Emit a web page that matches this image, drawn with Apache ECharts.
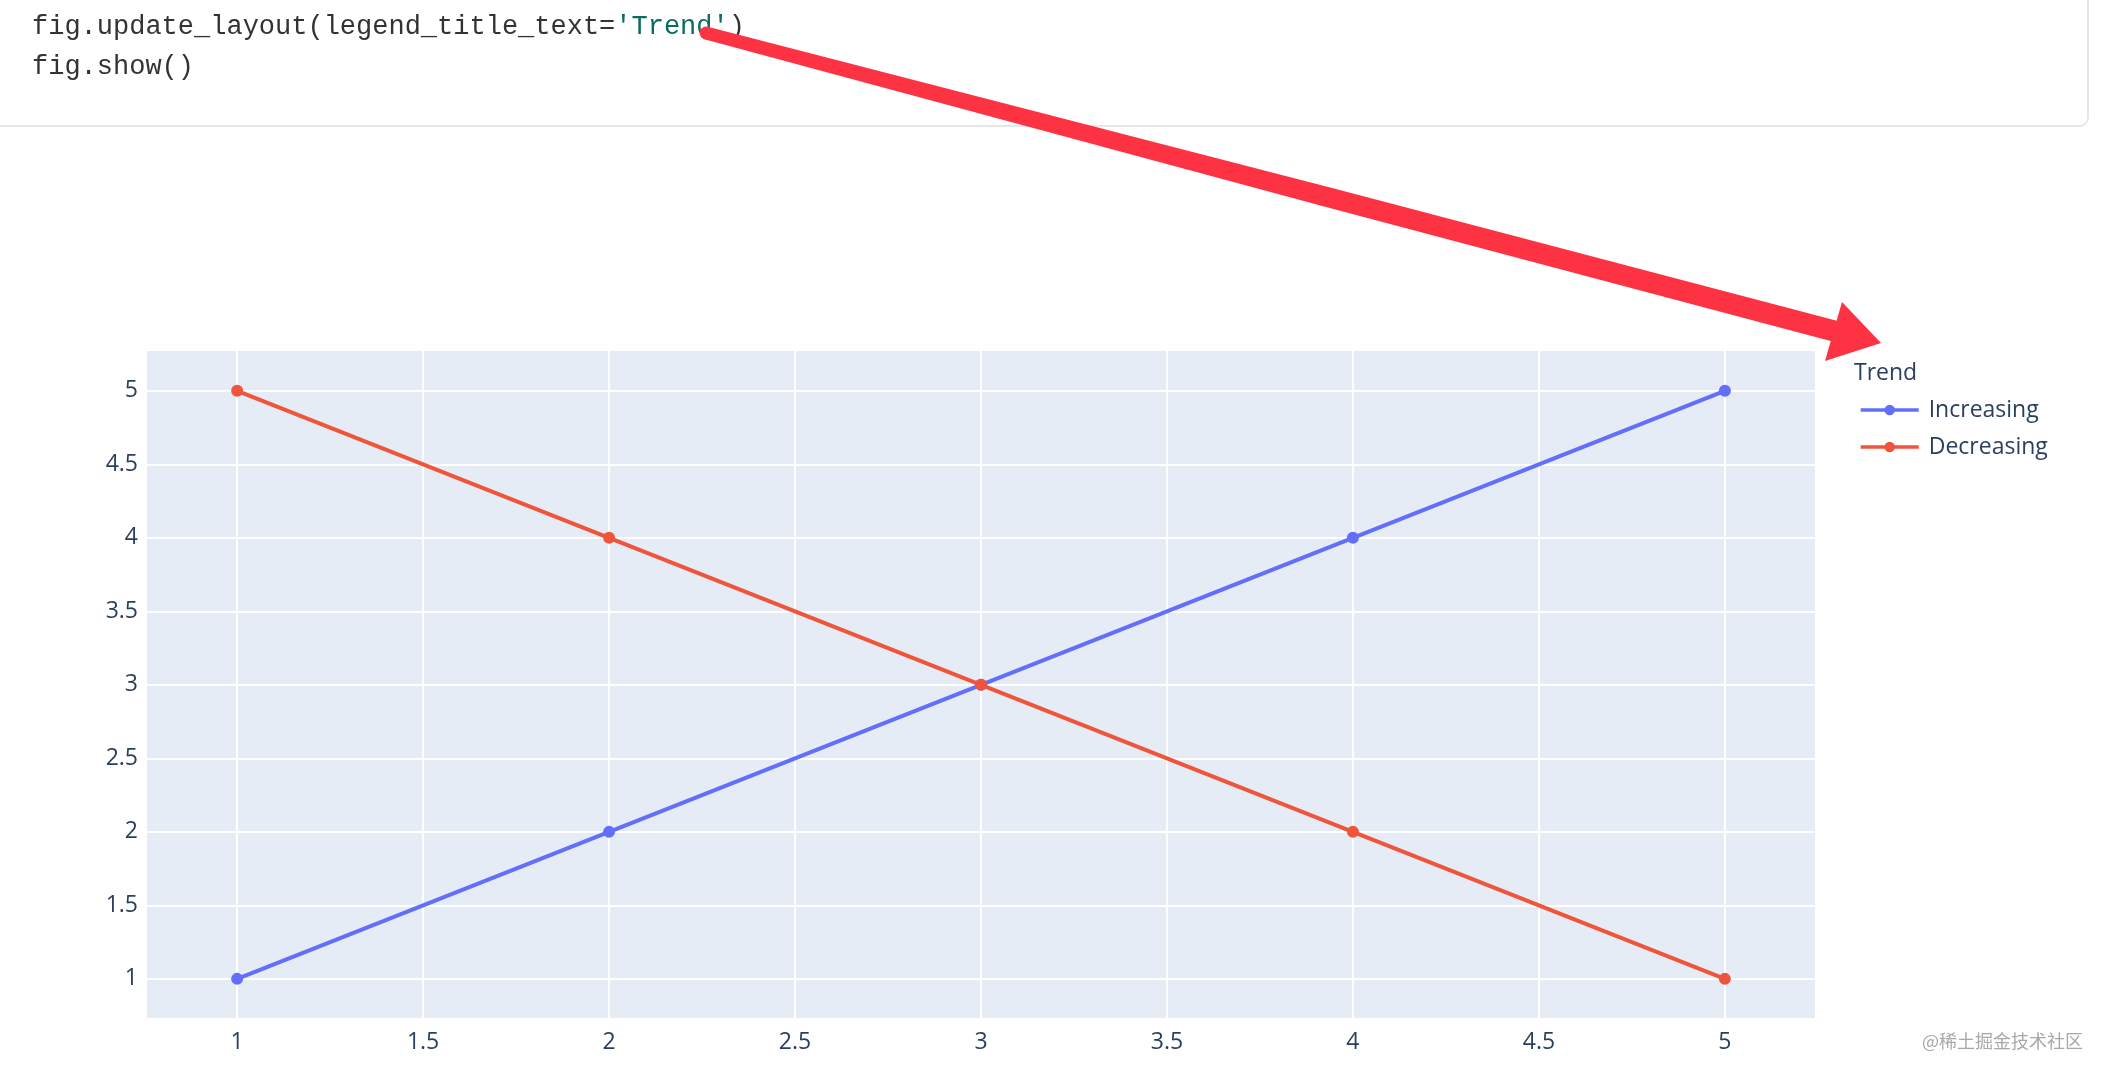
<!DOCTYPE html>
<html>
<head>
<meta charset="utf-8">
<title>Trend</title>
<script src="https://cdn.jsdelivr.net/npm/echarts@6/dist/echarts.min.js"></script>
<style>
  html, body { margin: 0; padding: 0; background: #fff; }
  #main { width: 2111px; height: 1080px; }
</style>
</head>
<body>
<div id="main"></div>
<script>
// data
var xValues = [1, 2, 3, 4, 5];
var increasing = [1, 2, 3, 4, 5];
var decreasing = [5, 4, 3, 2, 1];
var seriesNames = ['Increasing', 'Decreasing'];
var legendTitle = 'Trend';
var codeLines = ["fig.update_layout(legend_title_text='Trend')", 'fig.show()'];

var textColor = '#2a3f5f';
var font = '"Open Sans", "Noto Sans", sans-serif';

function pairs(ys) {
  return xValues.map(function (x, i) { return [x, ys[i]]; });
}

// hide labels that are not on the 0.5 step (edges of a fixed range)
function halfStep(v) {
  return Math.abs(v * 2 - Math.round(v * 2)) < 1e-6 ? String(+v.toFixed(2)) : '';
}

// hand drawn arrow: shaft thin at the start, fatter towards the head
function arrowShaft(x0, y0, x1, y1, w0, wm, w1) {
  var dx = x1 - x0, dy = y1 - y0;
  var len = Math.sqrt(dx * dx + dy * dy);
  var nx = -dy / len, ny = dx / len;
  var xm = x0 + dx * 0.55, ym = y0 + dy * 0.55;
  return [
    [x0 + nx * w0 / 2, y0 + ny * w0 / 2],
    [xm + nx * wm / 2, ym + ny * wm / 2],
    [x1 + nx * w1 / 2, y1 + ny * w1 / 2],
    [x1 - nx * w1 / 2, y1 - ny * w1 / 2],
    [xm - nx * wm / 2, ym - ny * wm / 2],
    [x0 - nx * w0 / 2, y0 - ny * w0 / 2]
  ];
}

var chart = echarts.init(document.getElementById('main'));

var option = {
  backgroundColor: '#fff',
  animation: false,
  title: {
    text: legendTitle,
    left: 1854,
    top: 362,
    padding: 0,
    textStyle: { color: textColor, fontSize: 23, fontWeight: 'normal', fontFamily: font }
  },
  legend: {
    data: seriesNames,
    orient: 'vertical',
    left: 1859,
    top: 397,
    padding: 0,
    itemWidth: 58,
    itemHeight: 13,
    itemGap: 11,
    lineStyle: { width: 3.4 },
    textStyle: { color: textColor, fontSize: 23, fontFamily: font, lineHeight: 26, padding: [0, 0, 0, 5] }
  },
  grid: {
    left: 146,
    right: 295,
    top: 350,
    bottom: 61,
    show: true,
    backgroundColor: '#E5ECF6',
    borderWidth: 0,
    containLabel: false
  },
  xAxis: {
    type: 'value',
    min: 0.755,
    max: 5.245,
    splitNumber: 9,
    axisLine: { show: false },
    axisTick: { show: false },
    splitLine: { show: true, lineStyle: { color: '#fff', width: 2 } },
    axisLabel: {
      color: textColor, fontSize: 23, fontFamily: font, margin: 12,
      showMinLabel: false, showMaxLabel: false, formatter: halfStep
    }
  },
  yAxis: {
    type: 'value',
    min: 0.727,
    max: 5.278,
    splitNumber: 9,
    axisLine: { show: false },
    axisTick: { show: false },
    splitLine: { show: true, lineStyle: { color: '#fff', width: 2 } },
    axisLabel: {
      color: textColor, fontSize: 23, fontFamily: font, margin: 8,
      showMinLabel: false, showMaxLabel: false, formatter: halfStep
    }
  },
  series: [
    {
      name: seriesNames[0],
      type: 'line',
      data: pairs(increasing),
      symbol: 'circle',
      symbolSize: 12,
      showAllSymbol: true,
      color: '#636EFA',
      lineStyle: { width: 4, color: '#636EFA' },
      itemStyle: { color: '#636EFA' }
    },
    {
      name: seriesNames[1],
      type: 'line',
      data: pairs(decreasing),
      symbol: 'circle',
      symbolSize: 12,
      showAllSymbol: true,
      color: '#EF553B',
      lineStyle: { width: 4, color: '#EF553B' },
      itemStyle: { color: '#EF553B' }
    }
  ],
  graphic: [
    // code cell above the plot
    {
      type: 'rect',
      z: 1,
      shape: { x: -20, y: -20, width: 2108, height: 146, r: 8 },
      style: { fill: '#fff', stroke: '#e6e6e6', lineWidth: 2 }
    },
    {
      type: 'text',
      z: 2,
      x: 32,
      y: 27,
      style: {
        text: "{c|fig.update_layout(legend_title_text=}{s|'Trend'}{c|)}",
        verticalAlign: 'middle',
        rich: {
          c: { fontFamily: '"Courier New", "Liberation Mono", monospace', fontSize: 27, fill: '#333' },
          s: { fontFamily: '"Courier New", "Liberation Mono", monospace', fontSize: 27, fill: '#0b6b61' }
        }
      }
    },
    {
      type: 'text',
      z: 2,
      x: 32,
      y: 67,
      style: {
        text: codeLines[1],
        verticalAlign: 'middle',
        fontFamily: '"Courier New", "Liberation Mono", monospace',
        fontSize: 27,
        fill: '#333'
      }
    },
    // red arrow
    {
      type: 'polygon',
      z: 100,
      shape: { points: arrowShaft(706, 33, 1838, 332, 13, 20, 21) },
      style: { fill: '#fd3343' }
    },
    {
      type: 'circle',
      z: 100,
      shape: { cx: 706, cy: 33, r: 6.5 },
      style: { fill: '#fd3343' }
    },
    {
      type: 'polygon',
      z: 100,
      shape: { points: [[1842, 302], [1881, 343], [1825, 361]] },
      style: { fill: '#fd3343' }
    },
    // watermark
    {
      type: 'text',
      z: 50,
      x: 2083,
      y: 1041,
      style: {
        text: '@稀土掘金技术社区',
        align: 'right',
        verticalAlign: 'middle',
        fontFamily: '"Noto Sans CJK SC", sans-serif',
        fontSize: 18,
        fill: '#a8a8a8'
      }
    }
  ]
};

chart.setOption(option);
</script>
</body>
</html>
